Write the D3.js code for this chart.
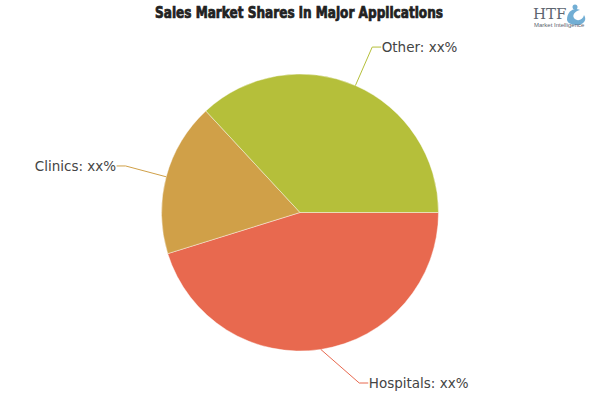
<!DOCTYPE html>
<html>
<head>
<meta charset="utf-8">
<script src="https://cdn.jsdelivr.net/npm/d3@7"></script>
<style>
  body { margin: 0; background: #fff; }
  svg { display: block; }
</style>
</head>
<body>
<div id="chart"></div>
<script>
// chart data
const categories = ["Hospitals", "Clinics", "Other"];
const shares = [45.2, 17.9, 36.9];
const labelText = ["Hospitals: xx%", "Clinics: xx%", "Other: xx%"];
const sliceColors = ["#e8694f", "#d0a048", "#b5bf3a"];

const width = 600, height = 400;
const cx = 300, cy = 212.5, radius = 138.5;
const labelDist = 42;   // connector length out from the pie edge
const labelMaxY = 383;  // labels get pushed up above this

const svg = d3.select("#chart").append("svg")
    .attr("width", width)
    .attr("height", height);

// title
svg.append("text")
    .attr("x", 299)
    .attr("y", 18)
    .attr("text-anchor", "middle")
    .attr("font-family", "'Liberation Sans Narrow', 'DejaVu Sans Condensed', sans-serif")
    .attr("font-weight", "bold")
    .attr("font-size", 15)
    .attr("fill", "#222")
    .attr("textLength", 288)
    .attr("lengthAdjust", "spacingAndGlyphs")
    .style("stroke", "#222")
    .style("stroke-width", 0.7)
    .text("Sales Market Shares in Major Applications");

// HTF logo (rough)
const logo = svg.append("g").attr("class", "logo");
logo.append("text")
    .attr("x", 533).attr("y", 19)
    .attr("font-family", "'DejaVu Serif', serif")
    .attr("font-size", 15)
    .attr("fill", "#5d6670")
    .text("HTF");
logo.append("path")
    .attr("d", "M567,20 C567,11 574,7 580,10 C575,11 572,15 574,18 C577,22 583,20 584,15 C588,21 582,26 575,25 C570,24 568,23 567,20 Z")
    .attr("fill", "#4f9ac9")
    .attr("opacity", 0.8);
logo.append("circle").attr("cx", 575).attr("cy", 7).attr("r", 2.5).attr("fill", "#4f9ac9").attr("opacity", 0.8);
logo.append("text")
    .attr("x", 534).attr("y", 27)
    .attr("font-family", "'Liberation Sans', sans-serif")
    .attr("font-size", 6)
    .attr("fill", "#5d6670")
    .text("Market Intelligence");

const color = d3.scaleOrdinal().domain(categories).range(sliceColors);

const pie = d3.pie()
    .sort(null)
    .value(d => d.value)
    .startAngle(Math.PI / 2)
    .endAngle(Math.PI / 2 + 2 * Math.PI);

const data = categories.map((c, i) => ({ name: c, value: shares[i], label: labelText[i] }));
const arcs = pie(data);

const arc = d3.arc().innerRadius(0).outerRadius(radius);

const g = svg.append("g").attr("transform", `translate(${cx},${cy})`);

g.selectAll("path.slice")
    .data(arcs)
    .join("path")
    .attr("class", "slice")
    .attr("d", arc)
    .attr("fill", d => color(d.data.name))
    .attr("stroke", "#fff")
    .attr("stroke-width", 0.6)
    .attr("stroke-opacity", 0.7);

// label positions: on a circle of radius R+dist, y clamped, x recomputed from y
const lr = radius + labelDist;
const labelPos = arcs.map(d => {
  const a = (d.startAngle + d.endAngle) / 2;
  const ex = radius * Math.sin(a), ey = -radius * Math.cos(a);
  let ly = -lr * Math.cos(a);
  ly = Math.min(ly, labelMaxY - cy);
  const side = Math.sin(a) >= 0 ? 1 : -1;
  const lx = side * Math.sqrt(Math.max(0, lr * lr - ly * ly));
  return { d, ex, ey, lx, ly, side };
});

g.selectAll("path.connector")
    .data(labelPos)
    .join("path")
    .attr("class", "connector")
    .attr("fill", "none")
    .attr("stroke", p => color(p.d.data.name))
    .attr("stroke-width", 1)
    .attr("d", p => `M${p.ex},${p.ey}L${p.lx},${p.ly}L${p.lx + p.side * 9},${p.ly}`);

g.selectAll("text.label")
    .data(labelPos)
    .join("text")
    .attr("class", "label")
    .attr("x", p => p.lx + p.side * 9.5)
    .attr("y", p => p.ly)
    .attr("dy", "0.35em")
    .attr("text-anchor", p => p.side > 0 ? "start" : "end")
    .attr("font-family", "'DejaVu Sans', sans-serif")
    .attr("font-size", 13.5)
    .attr("fill", "#444")
    .text(p => p.d.data.label);
</script>
</body>
</html>
